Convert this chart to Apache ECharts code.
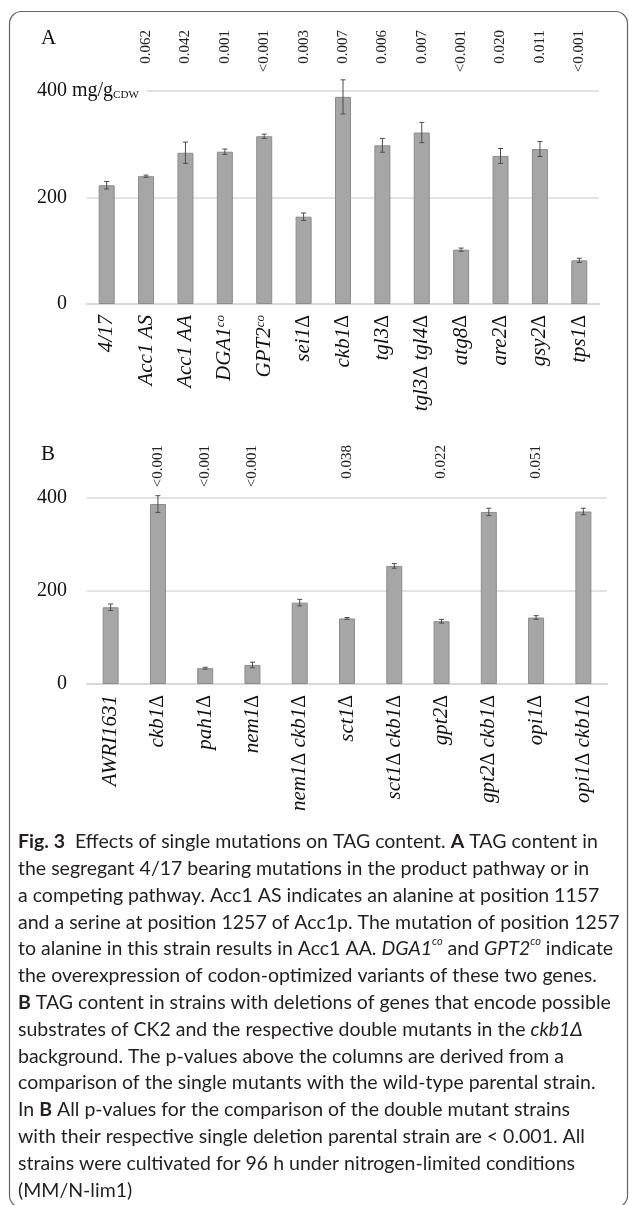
<!DOCTYPE html>
<html>
<head>
<meta charset="utf-8">
<script src="https://cdn.jsdelivr.net/npm/echarts@6/dist/echarts.min.js"></script>
<style>
html, body { margin: 0; padding: 0; background: #fff; }
#main { width: 629px; height: 1205px; }
</style>
</head>
<body>
<div id="main"></div>
<script>
// panel A
var catsA = ['4/17', 'Acc1 AS', 'Acc1 AA', 'DGA1^co', 'GPT2^co', 'sei1Δ', 'ckb1Δ', 'tgl3Δ', 'tgl3Δ tgl4Δ', 'atg8Δ', 'are2Δ', 'gsy2Δ', 'tps1Δ'];
var valsA = [223, 240, 284, 286, 315, 164, 389, 298, 322, 102, 278, 291, 82];
var errA = [7, 2, 20, 5, 4, 7, 32, 13, 19, 3, 14, 14, 4];
var pvalA = ['', '0.062', '0.042', '0.001', '<0.001', '0.003', '0.007', '0.006', '0.007', '<0.001', '0.020', '0.011', '<0.001'];

// panel B
var catsB = ['AWRI1631', 'ckb1Δ', 'pah1Δ', 'nem1Δ', 'nem1Δ ckb1Δ', 'sct1Δ', 'sct1Δ ckb1Δ', 'gpt2Δ', 'gpt2Δ ckb1Δ', 'opi1Δ', 'opi1Δ ckb1Δ'];
var valsB = [165, 387, 34, 41, 175, 141, 254, 135, 370, 143, 371];
var errB = [7, 18, 2, 6, 7, 2, 5, 4, 8, 4, 7];
var pvalB = ['', '<0.001', '<0.001', '<0.001', '', '0.038', '', '0.022', '', '0.051', ''];

var yMax = 400, yStep = 200;

var caption = [
    '{b|Fig. 3}  Effects of single mutations on TAG content. {b|A} TAG content in',
    'the segregant 4/17 bearing mutations in the product pathway or in',
    'a competing pathway. Acc1 AS indicates an alanine at position 1157',
    'and a serine at position 1257 of Acc1p. The mutation of position 1257',
    'to alanine in this strain results in Acc1 AA. {i|DGA1}{sup|co} and {i|GPT2}{sup|co} indicate',
    'the overexpression of codon-optimized variants of these two genes.',
    '{b|B} TAG content in strains with deletions of genes that encode possible',
    'substrates of CK2 and the respective double mutants in the {i|ckb1Δ}',
    'background. The p-values above the columns are derived from a',
    'comparison of the single mutants with the wild-type parental strain.',
    'In {b|B} All p-values for the comparison of the double mutant strains',
    'with their respective single deletion parental strain are < 0.001. All',
    'strains were cultivated for 96 h under nitrogen-limited conditions',
    '(MM/N-lim1)'
];

var serif = 'Liberation Serif';
var sans = 'Lato';
var capSize = 19.5, capLH = 26.8;

var dom = document.getElementById('main');
var myChart = echarts.init(dom, null, { renderer: 'canvas' });

// italic gene names, upright Δ, ^ marks a superscript
function catLabel(v) {
    var parts = v.split('^');
    var out = '';
    parts[0].split(/(Δ)/).forEach(function (t) {
        if (!t) return;
        out += t === 'Δ' ? '{d|Δ}' : '{i|' + t + '}';
    });
    if (parts[1]) out += '{sup|' + parts[1] + '}';
    return out;
}

var catRich = {
    i: { fontFamily: serif, fontStyle: 'italic', fontSize: 21, color: '#111' },
    d: { fontFamily: serif, fontSize: 20, color: '#111' },
    sup: { fontFamily: serif, fontStyle: 'italic', fontSize: 13, color: '#111', verticalAlign: 'top', lineHeight: 13 }
};

var yRich = {
    n: { fontFamily: serif, fontSize: 20, color: '#111' },
    z: { fontFamily: serif, fontSize: 20, color: '#111', padding: [0, 0, 0, 20] },
    u: { fontFamily: serif, fontSize: 20, color: '#111', backgroundColor: '#fff' },
    s: { fontFamily: serif, fontSize: 11, color: '#111', backgroundColor: '#fff', verticalAlign: 'bottom', lineHeight: 14, padding: [0, 8, 0, 0] }
};

function yLabel(withUnit) {
    return function (v) {
        if (v === 0) return '{z|0}';
        if (withUnit && v === yMax) return '{n|' + v + '}{u| mg/g}{s|CDW}';
        return '{n|' + v + '}';
    };
}

function pAxis(grid, cats, pv) {
    return {
        type: 'category', gridIndex: grid, data: cats, position: 'bottom',
        axisLine: { show: false }, axisTick: { show: false },
        axisLabel: {
            interval: 0, rotate: 90, margin: 0,
            fontFamily: serif, fontSize: 15, color: '#222',
            formatter: function (v, idx) { return pv[idx]; }
        }
    };
}

function catAxis(grid, cats) {
    return {
        type: 'category', gridIndex: grid, data: cats,
        axisLine: { show: true, lineStyle: { color: '#d9d9d9', width: 2 } },
        axisTick: { show: false },
        axisLabel: { interval: 0, rotate: 90, margin: 11, formatter: catLabel, rich: catRich }
    };
}

function valAxis(grid, withUnit) {
    return {
        type: 'value', gridIndex: grid, min: 0, max: yMax, interval: yStep,
        axisLine: { show: false }, axisTick: { show: false },
        splitLine: { show: true, lineStyle: { color: '#d9d9d9', width: 1.5 } },
        axisLabel: { align: 'left', margin: 50, formatter: yLabel(withUnit), rich: yRich }
    };
}

function hiddenY(grid) {
    return { type: 'value', gridIndex: grid, show: false };
}

function barSeries(ax, vals) {
    return {
        type: 'bar', xAxisIndex: ax, yAxisIndex: ax, barWidth: 16,
        itemStyle: { color: '#a6a6a6', borderColor: '#8c8c8c', borderWidth: 1 },
        data: vals
    };
}

function errSeries(ax, vals, errs) {
    return {
        type: 'custom', xAxisIndex: ax, yAxisIndex: ax, z: 5,
        data: vals.map(function (v, i) { return [i, v - errs[i], v + errs[i]]; }),
        renderItem: function (params, api) {
            var lo = api.coord([api.value(0), api.value(1)]);
            var hi = api.coord([api.value(0), api.value(2)]);
            var w = 2.5;
            var st = { stroke: '#4d4d4d', lineWidth: 1 };
            return {
                type: 'group',
                children: [
                    { type: 'line', shape: { x1: lo[0], y1: lo[1], x2: hi[0], y2: hi[1] }, style: st },
                    { type: 'line', shape: { x1: lo[0] - w, y1: lo[1], x2: lo[0] + w, y2: lo[1] }, style: st },
                    { type: 'line', shape: { x1: hi[0] - w, y1: hi[1], x2: hi[0] + w, y2: hi[1] }, style: st }
                ]
            };
        }
    };
}

function capStyle(extra) {
    var s = { fontFamily: sans, fontSize: capSize, fontWeight: 'normal', fontStyle: 'normal', lineHeight: capLH, fill: '#231f20' };
    for (var k in extra) s[k] = extra[k];
    return s;
}

var option = {
    backgroundColor: '#fff',
    animation: false,
    grid: [
        { left: 87, right: 30, top: 20, height: 10 },
        { left: 87, right: 30, top: 91, height: 213 },
        { left: 87, right: 22, top: 435, height: 10 },
        { left: 87, right: 22, top: 498, height: 186 }
    ],
    xAxis: [
        pAxis(0, catsA, pvalA),
        catAxis(1, catsA),
        pAxis(2, catsB, pvalB),
        catAxis(3, catsB)
    ],
    yAxis: [
        hiddenY(0),
        valAxis(1, true),
        hiddenY(2),
        valAxis(3, false)
    ],
    series: [
        barSeries(1, valsA),
        errSeries(1, valsA, errA),
        barSeries(3, valsB),
        errSeries(3, valsB, errB)
    ],
    graphic: [
        {
            type: 'rect', z: 0,
            shape: { x: 9.5, y: 11.5, width: 618, height: 1196, r: 12 },
            style: { fill: 'none', stroke: '#666', lineWidth: 1.2 }
        },
        { type: 'text', left: 41, top: 28, style: { text: 'A', font: '21px "Liberation Serif"', fill: '#111' } },
        { type: 'text', left: 41, top: 444, style: { text: 'B', font: '21px "Liberation Serif"', fill: '#111' } },
        {
            type: 'text', left: 18, top: 842 - capLH / 2,
            style: {
                text: caption.join('\n'),
                fontFamily: sans, fontSize: capSize, lineHeight: capLH, fill: '#231f20',
                rich: {
                    b: capStyle({ fontWeight: 'bold' }),
                    i: capStyle({ fontStyle: 'italic' }),
                    sup: capStyle({ fontStyle: 'italic', fontSize: 11, lineHeight: 14, verticalAlign: 'top' })
                }
            }
        }
    ]
};

option && myChart.setOption(option);
window.addEventListener('resize', myChart.resize);
</script>
</body>
</html>
